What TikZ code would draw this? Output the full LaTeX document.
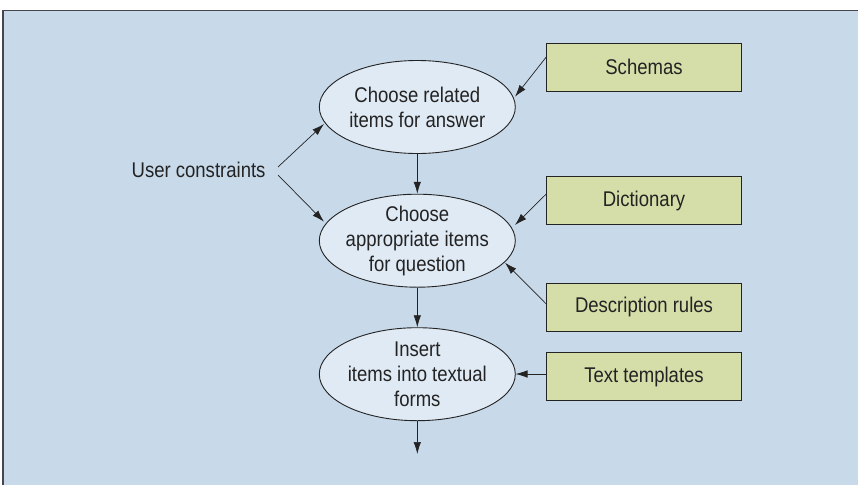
\documentclass[tikz,border=0pt]{standalone}
\usepackage{fontspec}
\setmainfont[FakeStretch=0.87]{Liberation Sans}
\usetikzlibrary{shapes.geometric,arrows.meta}
\definecolor{bgblue}{RGB}{200,217,234}
\definecolor{ellfill}{RGB}{224,234,244}
\definecolor{boxfill}{RGB}{213,222,169}
\definecolor{ink}{RGB}{35,35,35}
\definecolor{framec}{RGB}{70,70,75}
\tikzset{
  proc/.style={ellipse, draw=ink, line width=0.9pt, fill=ellfill, minimum width=196pt, minimum height=93pt, inner xsep=-10pt, inner ysep=-6pt, align=center, font=\fontsize{21.3}{25}\selectfont, text=ink},
  src/.style={rectangle, draw=ink, line width=0.9pt, fill=boxfill, minimum width=194.6pt, minimum height=48pt, inner sep=0pt, font=\fontsize{21.3}{25}\selectfont, text=ink},
  lbl/.style={inner sep=0pt, font=\fontsize{21.3}{25}\selectfont, text=ink},
  conn/.style={draw=ink, line width=0.7pt, -{Latex[length=12pt,width=7.5pt]}}
}
\begin{document}
\begin{tikzpicture}[x=1pt,y=-1pt]
\useasboundingbox (0,0) rectangle (858,485);
\fill[white] (0,0) rectangle (858,485);
\fill[bgblue] (3,10.5) rectangle (858,485);
\draw[framec, line width=1.6pt] (3,485) -- (3,10.5) -- (858,10.5);
\node[proc] (e1) at (417.3,107) {Choose related\\items for answer};
\node[proc] (e2) at (417.3,240.7) {Choose\\appropriate items\\for question};
\node[proc] (e3) at (417.3,374.2) {Insert\\items into textual\\forms};
\coordinate (out) at (417.3,454);
\node[src] (s1) at (644,67.3) {Schemas};
\node[src] (s2) at (644,200.7) {Dictionary};
\node[src] (s3) at (644,307.3) {Description rules};
\node[src] (s4) at (644,376.7) {Text templates};
\node[lbl, anchor=east] (uc) at (265.7,170) {User constraints};
\coordinate (ucA) at (278,167);
\coordinate (ucB) at (278,175);
\draw[conn] (e1) -- (e2);
\draw[conn] (e2) -- (e3);
\draw[conn] (e3) -- (out);
\draw[conn] (ucA) -- (324,124);
\draw[conn] (ucB) -- (324,221.7);
\draw[conn] (s1.west |- 0,57) -- (515,96.7);
\draw[conn] (s2.west |- 0,194) -- (515,225);
\draw[conn] (s3.west |- 0,304) -- (505,262.7);
\draw[conn] (s4.west |- 0,374) -- (515.5,374);
\end{tikzpicture}
\end{document}
